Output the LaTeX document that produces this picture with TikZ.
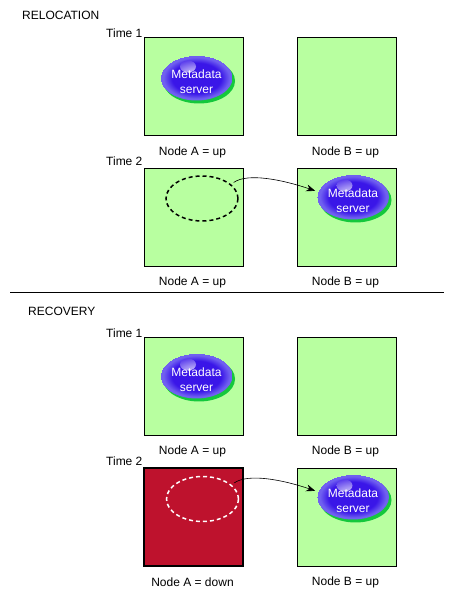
\documentclass[tikz,border=0pt]{standalone}
\usepackage{fontspec}
\setmainfont{Liberation Sans}
\usetikzlibrary{positioning, shapes.geometric, arrows.meta, calc}
\definecolor{NodeGreen}{RGB}{184,255,160}
\definecolor{NodeRed}{RGB}{190,18,45}
\definecolor{BallGreen}{RGB}{20,200,60}
\definecolor{BallBlue}{RGB}{58,22,232}
\definecolor{BallRim}{RGB}{112,96,240}
\pgfdeclareradialshading{ballshade}{\pgfpointorigin}{
  color(0bp)=(BallBlue); color(17bp)=(BallBlue);
  color(23bp)=(BallRim); color(25bp)=(BallRim)}

\begin{document}
\begin{tikzpicture}[
  x=1pt, y=1pt,
  font=\fontsize{12}{14}\selectfont,
  nodebox/.style={rectangle, draw=black, fill=NodeGreen, minimum width=99pt, minimum height=98pt, line width=1pt, inner sep=0pt},
  downbox/.style={nodebox, fill=NodeRed, line width=2pt},
  state/.style={inner sep=0pt, xshift=-1pt},
  title/.style={anchor=west, inner sep=0pt},
  balltext/.style={inner sep=0pt, text=white, align=center, yshift=-3.5pt, font=\fontsize{12}{14.5}\selectfont},
  ball/.style={ellipse, minimum width=72pt, minimum height=45pt, inner sep=0pt, shading=ballshade,
    label={[balltext]center:{Metadata\\server}},
    preaction={fill=BallGreen, transform canvas={shift={(2.5pt,-3pt)}}},
    path picture={\shade[inner color=white, outer color=BallBlue] ($(path picture bounding box.center)+(-8.5pt,11.5pt)$) ellipse (8pt and 6pt);}},
  gone/.style={ellipse, minimum width=72pt, minimum height=45pt, inner sep=0pt, draw=black, line width=1.5pt, dash pattern=on 4pt off 3pt},
  arrow/.style={-{Stealth[length=9pt,width=7pt]}, line width=0.6pt}
]
\useasboundingbox (0,0) rectangle (455,598);

% Relocation
\node[title] (relocation) at (22,583) {RELOCATION};
\node[title] (time1a) at (106,565) {Time 1};
\node[nodebox] (boxA1) at (193.5,511) {};
\node[nodebox] (boxB1) at (346.5,511) {};
\node[ball] (ball1) at (196.5,520) {};
\node[state, below=10pt of boxA1] (stateA1) {Node A = up};
\node[state, below=10pt of boxB1] (stateB1) {Node B = up};

\node[title] (time2a) at (106,437) {Time 2};
\node[nodebox] (boxA2) at (193.5,380.5) {};
\node[nodebox] (boxB2) at (346.5,380.5) {};
\node[gone] (gone2) at (202,399.5) {};
\node[ball] (ball2) at (353,401) {};
\node[state, below=10pt of boxA2] (stateA2) {Node A = up};
\node[state, below=10pt of boxB2] (stateB2) {Node B = up};
\draw[arrow] ([xshift=5pt]gone2.31) .. controls +(14,10) and +(-32,11) .. ([xshift=-3pt]ball2.170);

% Divider
\coordinate (ruleL) at (10,305);
\coordinate (ruleR) at (444,305);
\draw[line width=1pt] (ruleL) -- (ruleR);

% Recovery
\node[title] (recovery) at (28,287) {RECOVERY};
\node[title] (time1b) at (106,265) {Time 1};
\node[nodebox] (boxA3) at (193.5,211.5) {};
\node[nodebox] (boxB3) at (346.5,211.5) {};
\node[ball] (ball3) at (196.5,222) {};
\node[state, below=10pt of boxA3] (stateA3) {Node A = up};
\node[state, below=10pt of boxB3] (stateB3) {Node B = up};

\node[title] (time2b) at (106,137) {Time 2};
\node[downbox] (boxA4) at (193.5,80.5) {};
\node[nodebox] (boxB4) at (346.5,80.5) {};
\node[gone, draw=white] (gone4) at (202.5,99) {};
\node[ball] (ball4) at (353,101) {};
\node[state, below=10pt of boxA4] (stateA4) {Node A = down};
\node[state, below=10pt of boxB4] (stateB4) {Node B = up};
\draw[arrow] ([xshift=5pt]gone4.31) .. controls +(14,10) and +(-32,11) .. ([xshift=-3pt]ball4.170);

\end{tikzpicture}
\end{document}
